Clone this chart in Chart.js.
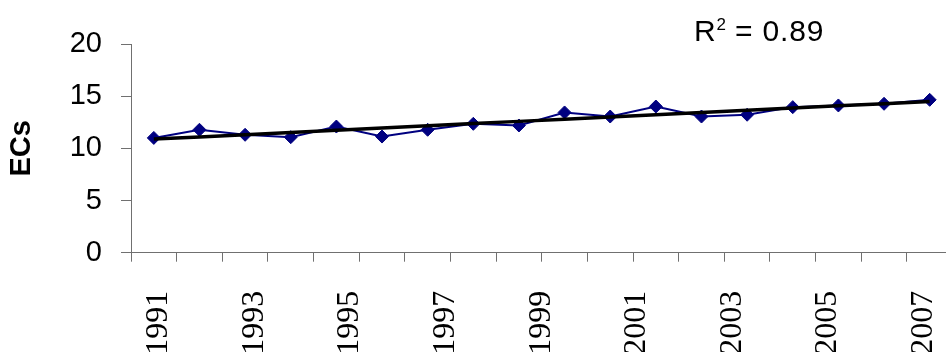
<!DOCTYPE html>
<html>
<head>
<meta charset="utf-8">
<script src="https://cdn.jsdelivr.net/npm/chart.js@4.4.1/dist/chart.umd.min.js"></script>
<style>
  html, body { margin: 0; padding: 0; background: #ffffff; }
  #wrap { position: relative; width: 946px; height: 352px; overflow: hidden; background: #ffffff; }
  #c { position: absolute; left: 0; top: 0; }
  #r2 { position: absolute; left: 694px; top: 16px; font-family: "Liberation Sans", Arial, sans-serif;
        font-size: 30px; line-height: 30px; color: #000; white-space: nowrap; letter-spacing: 0.8px; }
  #r2 .sup { font-size: 17px; position: relative; top: -11px; letter-spacing: 0; }
</style>
</head>
<body>
<div id="wrap">
  <canvas id="c" width="960" height="352"></canvas>
  <div id="r2">R<span class="sup">2</span> = 0.89</div>
</div>
<script>
// ---- data ----
const years = ['1991','1992','1993','1994','1995','1996','1997','1998','1999',
               '2000','2001','2002','2003','2004','2005','2006','2007','2008'];
const ecs = [11.0, 11.78, 11.3, 11.07, 12.09, 11.13, 11.78, 12.35, 12.19,
             13.44, 13.05, 14.01, 13.05, 13.22, 13.95, 14.11, 14.27, 14.65];
const yearLabels = [1991, 1993, 1995, 1997, 1999, 2001, 2003, 2005, 2007];
const yTicks = [0, 5, 10, 15, 20];

// linear least-squares trend of the series
function linearTrend(vals) {
  const n = vals.length;
  let sx = 0, sy = 0, sxx = 0, sxy = 0;
  vals.forEach((v, i) => { sx += i; sy += v; sxx += i * i; sxy += i * v; });
  const b = (n * sxy - sx * sy) / (n * sxx - sx * sx);
  const a = (sy - b * sx) / n;
  return vals.map((_, i) => a + b * i);
}
const trend = linearTrend(ecs);

const axisGray = '#707070';
const sans = '"Liberation Sans", Arial, sans-serif';
const serif = '"Liberation Serif", "Times New Roman", serif';

new Chart(document.getElementById('c'), {
  type: 'line',
  data: {
    labels: years,
    datasets: [
      {
        label: 'Trend',
        data: trend,
        borderColor: '#000000',
        borderWidth: 3.5,
        pointRadius: 0,
        tension: 0,
        order: 0
      },
      {
        label: 'ECs',
        data: ecs,
        borderColor: '#000080',
        backgroundColor: '#000080',
        borderWidth: 2,
        pointStyle: 'rectRot',
        pointRadius: 6.5,
        pointBackgroundColor: '#000080',
        pointBorderColor: '#000080',
        pointBorderWidth: 1,
        tension: 0,
        order: 1
      }
    ]
  },
  options: {
    responsive: false,
    animation: false,
    layout: { padding: { top: 44, right: 3, left: 0, bottom: 0 } },
    plugins: { legend: { display: false }, tooltip: { enabled: false }, title: { display: false } },
    scales: {
      x: {
        type: 'category',
        position: 'bottom',
        offset: true,
        grid: { offset: true, drawOnChartArea: false, drawTicks: true, tickLength: 9, color: axisGray, lineWidth: 1 },
        border: { display: true, color: axisGray, width: 1 },
        ticks: { display: false },
        afterFit: (s) => { s.height = 9; s.paddingLeft = 0; s.paddingRight = 0; }
      },
      xl: {
        type: 'linear',
        position: 'bottom',
        min: 1990.418,
        max: 2007.603,
        grid: { display: false, drawTicks: false },
        border: { display: false },
        afterBuildTicks: (s) => { s.ticks = yearLabels.map(v => ({ value: v })); },
        ticks: {
          autoSkip: false,
          minRotation: 90,
          maxRotation: 90,
          padding: 29,
          color: '#000000',
          font: { family: serif, size: 32 },
          callback: (v) => String(v)
        },
        afterFit: (s) => { s.height = 90.3; s.paddingLeft = 0; s.paddingRight = 0; }
      },
      y: {
        min: 0,
        max: 20,
        afterBuildTicks: (s) => { s.ticks = yTicks.map(v => ({ value: v })); },
        grid: { drawOnChartArea: false, drawTicks: true, tickLength: 10, color: axisGray, lineWidth: 1 },
        border: { display: true, color: axisGray, width: 1 },
        ticks: {
          padding: 19,
          color: '#000000',
          font: { family: sans, size: 29 }
        },
        title: {
          display: true,
          text: 'ECs',
          color: '#000000',
          font: { family: sans, size: 29, weight: 'bold' },
          padding: { top: 5, bottom: 0 }
        },
        afterFit: (s) => { s.width = 131; }
      }
    }
  }
});
</script>
</body>
</html>
